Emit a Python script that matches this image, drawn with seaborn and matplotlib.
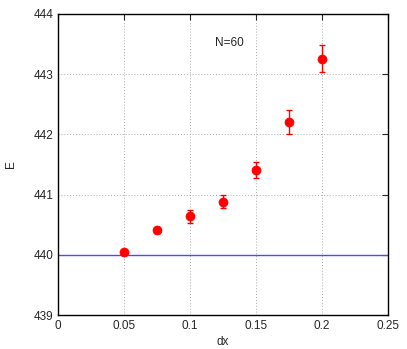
import matplotlib
matplotlib.use("Agg")
import matplotlib.pyplot as plt
import seaborn as sns
import pandas as pd

dx = [0.05, 0.075, 0.1, 0.125, 0.15, 0.175, 0.2]
energy = [440.05, 440.41, 440.64, 440.88, 441.41, 442.21, 443.26]
err = [0.02, 0.05, 0.11, 0.11, 0.13, 0.20, 0.22]
ref_energy = 440.0

sns.set_style("white")
plt.rcParams['font.family'] = ['Liberation Sans', 'DejaVu Sans']
plt.rcParams['font.size'] = 8.5

df = pd.DataFrame({"dx": dx, "E": energy, "err": err})

fig = plt.figure(figsize=(4.07, 3.49), dpi=100)
ax = fig.add_axes([0.1425, 0.0974, 0.8105, 0.8626])

ax.axhline(ref_energy, color="#4a4aff", lw=1, zorder=1)
ax.errorbar(df["dx"], df["E"], yerr=df["err"], fmt="none", ecolor="red",
            elinewidth=1, capsize=2.5, capthick=1, zorder=2)
sns.scatterplot(data=df, x="dx", y="E", color="red", s=42, edgecolor="red",
                ax=ax, zorder=3)

ax.text(0.13, 443.52, "N=60", ha="center", va="center", fontsize=8.5)

ax.set_xlim(0, 0.25)
ax.set_ylim(439, 444)
ax.set_xticks([0, 0.05, 0.1, 0.15, 0.2, 0.25])
ax.set_xticklabels(["0", "0.05", "0.1", "0.15", "0.2", "0.25"])
ax.set_yticks([439, 440, 441, 442, 443, 444])
ax.grid(True, color="#aaaaaa", linestyle=(0, (1, 2)), lw=0.7)
ax.tick_params(direction="in", length=4, top=True, right=True, labelsize=8.5)
for s in ax.spines.values():
    s.set_color("black")
    s.set_linewidth(1)
ax.set_xlabel("dx", fontsize=8.5, labelpad=3)
ax.set_ylabel("E", fontsize=8.5, labelpad=12)

fig.savefig("out.png", dpi=100)
